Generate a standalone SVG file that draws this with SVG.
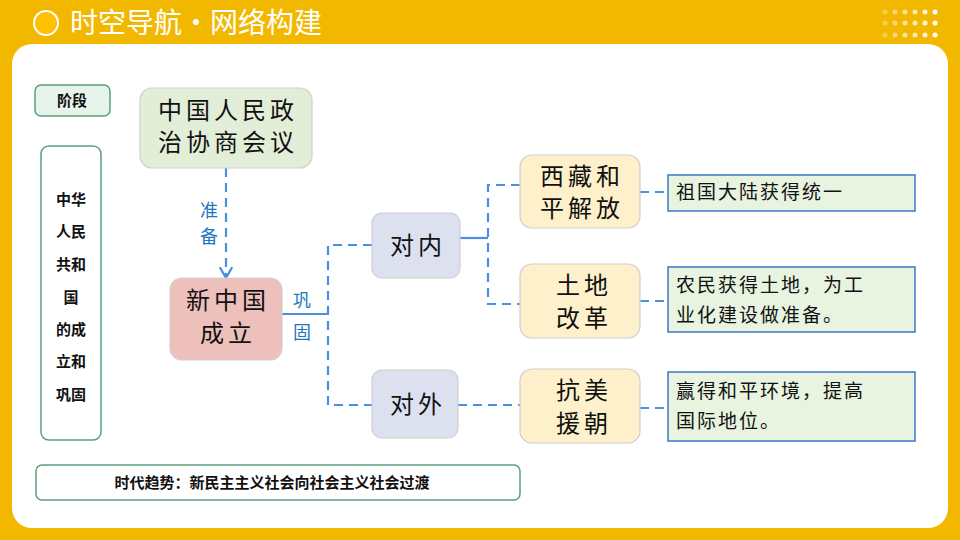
<svg xmlns="http://www.w3.org/2000/svg" width="960" height="540" viewBox="0 0 960 540">
<defs>
<style>
.k{font-family:"Noto Sans CJK SC","Noto Sans",sans-serif}
.big{font-size:24px;fill:#111;text-anchor:middle;letter-spacing:4px}
.bold{font-size:15px;font-weight:bold;fill:#111;text-anchor:middle}
.blue{font-size:18px;fill:#1e78c0;text-anchor:middle}
.rt{font-size:19px;fill:#111;letter-spacing:2px}
.dash{stroke:#4a8fe0;stroke-width:2.2;fill:none;stroke-dasharray:9 6}
.sol{stroke:#4a8fe0;stroke-width:2.2;fill:none}
.node{stroke:#cfcfcf;stroke-width:1.2}
.rb{fill:#E8F3E0;stroke:#3a78c8;stroke-width:1.5}
</style>
<marker id="ar" viewBox="0 0 10 10" refX="8" refY="5" markerWidth="7" markerHeight="7" orient="auto"><path d="M1 1 L8 5 L1 9" fill="none" stroke="#4a8fe0" stroke-width="1.5"/></marker>
</defs>
<rect width="960" height="540" fill="#F2B800"/>
<rect x="12" y="44" width="936" height="484" rx="20" fill="#fff"/>
<circle cx="46" cy="23" r="12" fill="#FFC000" stroke="#fff" stroke-width="2"/>
<text x="70" y="33" class="k" font-size="28" fill="#fff">时空导航·网络构建</text>
<g fill="#fff">
<circle cx="885" cy="12" r="2.5" opacity="0.3"/><circle cx="895" cy="12" r="2.5" opacity="0.45"/><circle cx="905" cy="12" r="2.5" opacity="0.6"/><circle cx="915" cy="12" r="2.5" opacity="0.7"/><circle cx="925" cy="12" r="2.5" opacity="0.85"/><circle cx="935" cy="12" r="2.5"/>
<circle cx="885" cy="23" r="2.5" opacity="0.3"/><circle cx="895" cy="23" r="2.5" opacity="0.45"/><circle cx="905" cy="23" r="2.5" opacity="0.6"/><circle cx="915" cy="23" r="2.5" opacity="0.7"/><circle cx="925" cy="23" r="2.5" opacity="0.85"/><circle cx="935" cy="23" r="2.5"/>
<circle cx="885" cy="35" r="2.5" opacity="0.3"/><circle cx="895" cy="35" r="2.5" opacity="0.45"/><circle cx="905" cy="35" r="2.5" opacity="0.6"/><circle cx="915" cy="35" r="2.5" opacity="0.7"/><circle cx="925" cy="35" r="2.5" opacity="0.85"/><circle cx="935" cy="35" r="2.5"/>
</g>
<g id="connectors">
<line x1="226" y1="168" x2="226" y2="278" class="dash" marker-end="url(#ar)"/>
<line x1="282" y1="314" x2="328" y2="314" class="sol"/>
<path d="M372 245 H328 V405 H372" class="dash"/>
<line x1="460" y1="238" x2="488" y2="238" class="sol"/>
<path d="M520 185 H488 V304 H520" class="dash"/>
<line x1="458" y1="405" x2="520" y2="405" class="dash"/>
<line x1="640" y1="192" x2="668" y2="192" class="dash"/>
<line x1="640" y1="301" x2="668" y2="301" class="dash"/>
<line x1="640" y1="408" x2="668" y2="408" class="dash"/>
<text x="209" y="217" class="k blue">准</text>
<text x="209" y="243" class="k blue">备</text>
<text x="302" y="307" class="k blue">巩</text>
<text x="302" y="339" class="k blue">固</text>
</g>
<g id="stage"><rect x="35" y="85" width="75" height="31" rx="6" fill="#E6F4EC" stroke="#5aa07a" stroke-width="1.5"/><text x="72" y="106" class="k bold">阶段</text></g>
<g id="period"><rect x="41" y="146" width="60" height="294" rx="8" fill="#fff" stroke="#5aa07a" stroke-width="1.5"/>
<text class="k bold"><tspan x="71" y="205">中华</tspan><tspan x="71" y="237">人民</tspan><tspan x="71" y="270">共和</tspan><tspan x="71" y="303">国</tspan><tspan x="71" y="335">的成</tspan><tspan x="71" y="367">立和</tspan><tspan x="71" y="400">巩固</tspan></text></g>
<g id="cppcc"><rect x="140" y="88" width="172" height="80" rx="12" fill="#E3EED9" class="node"/><text class="k big"><tspan x="228" y="119">中国人民政</tspan><tspan x="228" y="151">治协商会议</tspan></text></g>
<g id="newchina"><rect x="170" y="278" width="112" height="82" rx="12" fill="#EDC0BC" class="node"/><text class="k big"><tspan x="228" y="309">新中国</tspan><tspan x="228" y="342">成立</tspan></text></g>
<g id="inner"><rect x="372" y="213" width="88" height="65" rx="10" fill="#DDE1EF" class="node"/><text x="418" y="254" class="k big">对内</text></g>
<g id="outer"><rect x="372" y="370" width="86" height="68" rx="10" fill="#DDE1EF" class="node"/><text x="418" y="413" class="k big">对外</text></g>
<g id="tibet"><rect x="520" y="155" width="120" height="73" rx="12" fill="#FDF0CA" class="node"/><text class="k big"><tspan x="582" y="185">西藏和</tspan><tspan x="582" y="217">平解放</tspan></text></g>
<g id="land"><rect x="520" y="264" width="120" height="74" rx="12" fill="#FDF0CA" class="node"/><text class="k big"><tspan x="584" y="294">土地</tspan><tspan x="584" y="327">改革</tspan></text></g>
<g id="korea"><rect x="520" y="369" width="120" height="74" rx="12" fill="#FDF0CA" class="node"/><text class="k big"><tspan x="584" y="399">抗美</tspan><tspan x="584" y="432">援朝</tspan></text></g>
<g id="r1"><rect x="668" y="175" width="247" height="36" class="rb"/><text x="676" y="199" class="k rt">祖国大陆获得统一</text></g>
<g id="r2"><rect x="668" y="267" width="247" height="65" class="rb"/><text class="k rt"><tspan x="676" y="292">农民获得土地，为工</tspan><tspan x="676" y="322">业化建设做准备。</tspan></text></g>
<g id="r3"><rect x="668" y="372" width="247" height="69" class="rb"/><text class="k rt"><tspan x="676" y="398">赢得和平环境，提高</tspan><tspan x="676" y="428">国际地位。</tspan></text></g>
<g id="trend"><rect x="36" y="465" width="484" height="35" rx="6" fill="#fff" stroke="#5aa07a" stroke-width="1.5"/><text x="272" y="488" class="k bold">时代趋势：新民主主义社会向社会主义社会过渡</text></g>
</svg>
